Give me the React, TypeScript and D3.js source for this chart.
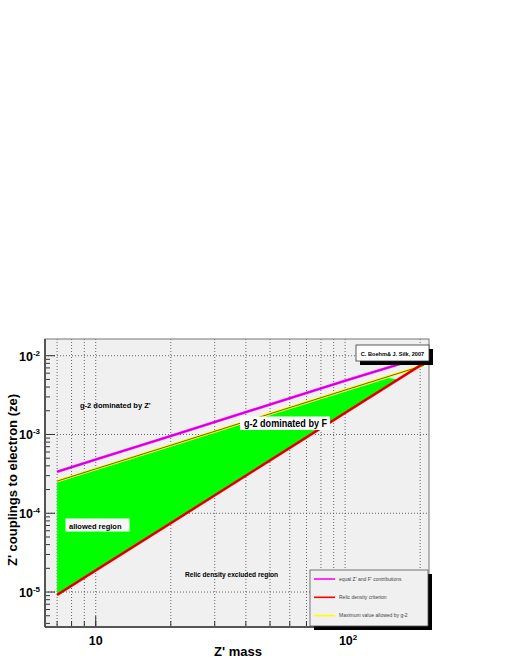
import React from 'react';
import * as d3 from 'd3';

// values (Z' mass vs coupling, log-log)
const zMass = [7, 10, 20, 50, 100, 200];
const equalZF = [3.37e-4, 4.8e-4, 9.6e-4, 2.4e-3, 4.8e-3, 9.4e-3];

const g2Mass = [7, 10, 20, 50, 100, 207];
const g2Max = [2.56e-4, 3.66e-4, 7.3e-4, 1.83e-3, 3.66e-3, 7.55e-3];

const relicMass = [7, 10, 20, 50, 100, 205];
const relic = [9.2e-6, 1.88e-5, 7.5e-5, 4.7e-4, 1.88e-3, 7.9e-3];

const allowedMass = [7, 20, 50, 100, 150, 163];
const allowedUpper = [2.45e-4, 7.0e-4, 1.75e-3, 3.5e-3, 5.2e-3, 5.0e-3];
const allowedLower = [9.2e-6, 7.5e-5, 4.7e-4, 1.88e-3, 4.2e-3, 5.0e-3];

const yDecades = [-5, -4, -3, -2];
const xLabels = [{ v: 10, base: '10', exp: '' }, { v: 100, base: '10', exp: '2' }];

const legendItems = [
  { label: "equal Z' and F' contributions", color: '#ff00ff' },
  { label: 'Relic density criterion', color: '#ff0000' },
  { label: 'Maximum value allowed by g-2', color: '#ffff00' },
];

const W = 518, H = 670;
const L = 45, R = 429, T = 339, B = 627;
const font = '"Liberation Sans", Arial, Helvetica, sans-serif';

export default function App() {
  const x = d3.scaleLog().domain([6.26, 217]).range([L, R]);
  const y = d3.scaleLog().domain([3.6e-6, 1.63e-2]).range([B, T]);

  const line = d3.line<[number, number]>().x(d => x(d[0])).y(d => y(d[1]));
  const pts = (ms: number[], vs: number[]) => ms.map((m, i) => [m, vs[i]] as [number, number]);

  const greenPoly = [
    ...pts(allowedMass, allowedUpper),
    ...pts(allowedMass, allowedLower).reverse(),
  ];

  const xGrid = x.ticks().filter(v => x(v) > L + 2 && x(v) < R - 2);
  const yMinor: number[] = [];
  for (const e of [-6, -5, -4, -3, -2]) {
    for (let k = 1; k < 10; k++) {
      const v = k * Math.pow(10, e);
      if (y(v) <= B && y(v) >= T) yMinor.push(v);
    }
  }

  const curves = [
    { ms: zMass, vs: equalZF, outer: '#ff00ff', inner: '#a000b0' },
    { ms: g2Mass, vs: g2Max, outer: '#ffff00', inner: '#222' },
    { ms: relicMass, vs: relic, outer: '#ff0000', inner: '#990000' },
  ];

  return (
    <svg width={W} height={H} style={{ position: 'absolute', left: 0, top: 0 }} fontFamily={font}>
      <rect x={0} y={0} width={W} height={H} fill="#fff" />
      <rect x={L} y={T} width={R - L} height={B - T} fill="#f0f0f0" />

      {/* grid */}
      {xGrid.map(v => (
        <line key={'gx' + v} x1={x(v)} x2={x(v)} y1={T} y2={B} stroke="#444" strokeWidth={0.8} strokeDasharray="1,2" />
      ))}
      {yDecades.map(e => (
        <line key={'gy' + e} x1={L} x2={R} y1={y(Math.pow(10, e))} y2={y(Math.pow(10, e))} stroke="#444" strokeWidth={0.8} strokeDasharray="1,2" />
      ))}

      {/* allowed region */}
      <path d={line(greenPoly) + 'Z'} fill="#00ff00" />

      {/* curves */}
      {curves.map((c, i) => (
        <g key={'c' + i}>
          <path d={line(pts(c.ms, c.vs)) || ''} fill="none" stroke={c.outer} strokeWidth={2.6} />
          <path d={line(pts(c.ms, c.vs)) || ''} fill="none" stroke={c.inner} strokeWidth={0.7} />
        </g>
      ))}

      {/* ticks */}
      {yMinor.map(v => {
        const major = Math.abs(Math.log10(v) - Math.round(Math.log10(v))) < 1e-6;
        return <line key={'ty' + v} x1={L} x2={L + (major ? 10 : 5)} y1={y(v)} y2={y(v)} stroke="#333" strokeWidth={1} />;
      })}
      {xGrid.map(v => (
        <line key={'tx' + v} x1={x(v)} x2={x(v)} y1={B} y2={B - 6} stroke="#333" strokeWidth={1} />
      ))}
      {[10, 100].map(v => (
        <line key={'txm' + v} x1={x(v)} x2={x(v)} y1={B} y2={B - 11} stroke="#333" strokeWidth={1} />
      ))}

      {/* frame */}
      <rect x={L} y={T} width={R - L} height={B - T} fill="none" stroke="#777" strokeWidth={1} />
      <line x1={L} x2={L} y1={T} y2={B} stroke="#555" strokeWidth={2} />
      <line x1={L} x2={R} y1={B} y2={B} stroke="#555" strokeWidth={2} />

      {/* y tick labels */}
      {yDecades.map(e => (
        <text key={'ly' + e} x={40} y={y(Math.pow(10, e)) + 5} textAnchor="end" fontWeight="bold" fontSize={12.5}>
          10<tspan dy={-5} fontSize={8}>{e}</tspan>
        </text>
      ))}
      {/* x tick labels */}
      {xLabels.map(l => (
        <text key={'lx' + l.v} x={x(l.v) + (l.exp ? 3 : 0)} y={645} textAnchor="middle" fontWeight="bold" fontSize={12.5}>
          {l.base}{l.exp && <tspan dy={-5} fontSize={8}>{l.exp}</tspan>}
        </text>
      ))}

      {/* axis titles */}
      <text x={214} y={656} fontWeight="bold" fontSize={13}>Z' mass</text>
      <text transform={`translate(17,480) rotate(-90)`} textAnchor="middle" fontWeight="bold" fontSize={13}>
        Z' couplings to electron (ze)
      </text>

      {/* annotations */}
      <text x={80} y={408} fontWeight="bold" fontSize={7.5}>g-2 dominated by Z'</text>
      <rect x={240} y={416.5} width={90} height={13.5} fill="#fff" />
      <text x={244} y={427} fontWeight="bold" fontSize={10.5} textLength={83} lengthAdjust="spacingAndGlyphs">g-2 dominated by F</text>
      <rect x={66} y={519} width={63} height={12} fill="#f6f6f6" stroke="#fff" strokeWidth={1} />
      <text x={69} y={528.5} fontWeight="bold" fontSize={7.5}>allowed region</text>
      <text x={185} y={577} fontWeight="bold" fontSize={6.6}>Relic density excluded region</text>

      {/* credit box */}
      <rect x={360} y={349} width={73} height={16} fill="#000" />
      <rect x={356} y={345} width={73} height={16} fill="#fff" stroke="#333" strokeWidth={0.8} />
      <text x={392.5} y={355.5} textAnchor="middle" fontWeight="bold" fontSize={5.6}>C. Boehm&amp; J. Silk, 2007</text>

      {/* legend */}
      <rect x={314} y={574} width={118} height={56} fill="#000" />
      <rect x={310} y={570} width={118} height={56} fill="#f0f0f0" stroke="#555" strokeWidth={0.8} />
      {legendItems.map((d, i) => {
        const ly = 579 + i * 18.3;
        return (
          <g key={d.label}>
            <line x1={314} x2={335} y1={ly} y2={ly} stroke={d.color} strokeWidth={1.6} />
            <text x={339} y={ly + 1.8} fontSize={5} fill="#444">{d.label}</text>
          </g>
        );
      })}
    </svg>
  );
}
